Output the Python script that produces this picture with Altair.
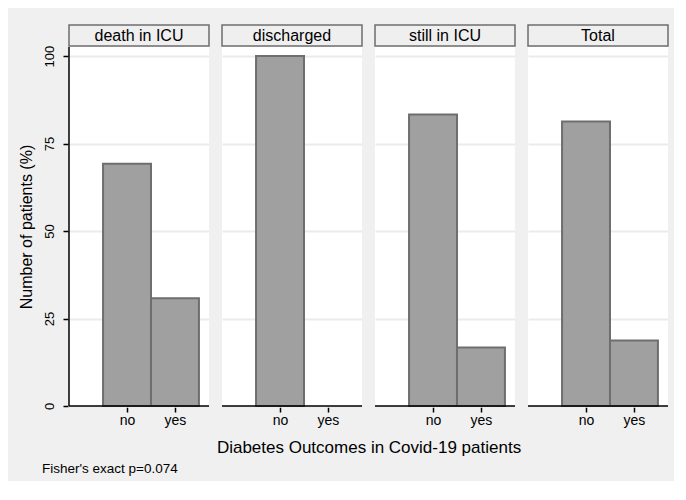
import altair as alt
import pandas as pd

outcomes = ["death in ICU", "discharged", "still in ICU", "Total"]
diabetes = ["no", "yes"]
pct_no = [69.2, 100.0, 83.3, 81.3]
pct_yes = [30.8, 0.0, 16.7, 18.7]

rows = []
for i, o in enumerate(outcomes):
    rows.append({"outcome": o, "diab": "no", "pos": 1, "pct": pct_no[i]})
    rows.append({"outcome": o, "diab": "yes", "pos": 2, "pct": pct_yes[i]})
df = pd.DataFrame(rows)

FONT = "Liberation Sans"
W, H = 140, 359

base = alt.Chart().transform_calculate(x0="datum.pos - 0.5", x1="datum.pos + 0.5")

bars = base.mark_bar(fill="#a0a0a0", stroke="#6e6e6e", strokeWidth=2).encode(
    x=alt.X("x0:Q", scale=alt.Scale(domain=[-0.21, 2.71], nice=False, zero=False),
            axis=alt.Axis(values=[1, 2], labelExpr="datum.value == 1 ? 'no' : 'yes'",
                          title=None, grid=False, domain=False,
                          tickColor="black", tickSize=5, tickWidth=1.5,
                          labelFontSize=14, labelColor="black", labelFont=FONT, labelPadding=1)),
    x2="x1:Q",
    y=alt.Y("pct:Q", scale=alt.Scale(domain=[0, 102.6], nice=False),
            axis=alt.Axis(values=[0, 25, 50, 75, 100], title="Number of patients (%)",
                          titleFontSize=16, titleFontWeight="normal", titleFont=FONT,
                          titleColor="black", titlePadding=9,
                          labelAngle=270, labelAlign="center", labelBaseline="bottom",
                          labelFontSize=13, labelColor="black", labelFont=FONT, labelPadding=7,
                          domain=False, tickColor="black",
                          tickSize=5, tickWidth=1.5,
                          grid=True, gridColor="#ebebeb", gridWidth=2)),
    y2=alt.datum(0),
).transform_filter("datum.pct > 0")

x_line = base.mark_rule(color="black", strokeWidth=1.5).encode(
    x=alt.value(0), x2=alt.value(W), y=alt.value(H)
).transform_filter("datum.pos == 1")

y_line = base.mark_rule(color="black", strokeWidth=1.5).encode(
    x=alt.value(0), y=alt.value(0), y2=alt.value(H)
).transform_filter("datum.pos == 1 && datum.outcome == 'death in ICU'")

strip_box = base.mark_rect(fill="#efefef", stroke="#6e6e6e", strokeWidth=1.5).encode(
    x=alt.value(0), x2=alt.value(W), y=alt.value(-22), y2=alt.value(-1)
).transform_filter("datum.pos == 1")

strip_text = base.mark_text(fontSize=16, font=FONT, color="black", baseline="middle").encode(
    x=alt.value(W / 2), y=alt.value(-11.5), text="outcome:N"
).transform_filter("datum.pos == 1")

chart = alt.layer(bars, x_line, y_line, strip_box, strip_text, data=df).properties(
    width=W, height=H
).facet(
    column=alt.Column("outcome:N", sort=outcomes,
                      header=alt.Header(title="Diabetes Outcomes in Covid-19 patients",
                                        titleOrient="bottom", labels=False,
                                        titleFontSize=17, titleFontWeight="normal",
                                        titleFont=FONT, titleColor="black", titlePadding=3)),
    spacing=11,
).properties(
    title=alt.TitleParams("Fisher's exact p=0.074", orient="bottom", anchor="start",
                          fontSize=13.5, fontWeight="normal", font=FONT, color="black",
                          dx=24, offset=6),
    background="#f0f0f0",
    padding={"left": 10, "top": 16, "right": 5, "bottom": 5},
).configure_view(fill="white", strokeWidth=0)

chart.save("out.html", embed_options={"renderer": "svg", "actions": False})
